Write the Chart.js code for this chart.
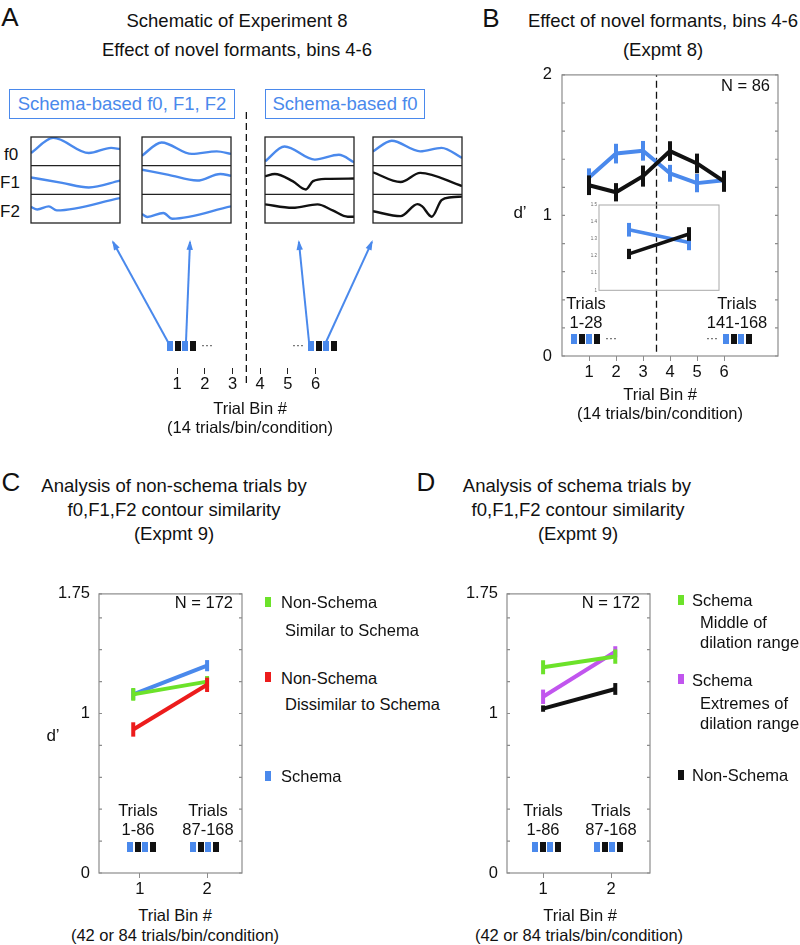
<!DOCTYPE html>
<html>
<head>
<meta charset="utf-8">
<script src="https://cdn.jsdelivr.net/npm/chart.js@4.4.0/dist/chart.umd.min.js"></script>
<style>
body { margin: 0; background: #fff; }
#fig { position: relative; width: 800px; height: 945px; overflow: hidden;
       font-family: "Liberation Sans", Arial, sans-serif; color: #111; }
#fig canvas { position: absolute; }
.t { position: absolute; white-space: nowrap; line-height: 1; }
.sq { position: absolute; display: flex; transform: translateY(-50%); }
.sq span { width: 6px; height: 10px; margin-right: 1.6px; }
.box { position: absolute; box-sizing: border-box; border: 1.3px solid #4a89ec; }
</style>
</head>
<body>
<div id="fig"></div>
<script>
// ---------- data ----------
var binsB = [1, 2, 3, 4, 5, 6];
var schemaB = [1.27, 1.44, 1.46, 1.30, 1.23, 1.25];
var schemaErrB = [0.065, 0.07, 0.07, 0.06, 0.065, 0.065];
var nonSchemaB = [1.215, 1.165, 1.28, 1.458, 1.37, 1.243];
var nonSchemaErrB = [0.07, 0.065, 0.075, 0.07, 0.07, 0.075];
var yLabelsB = [0, 1, 2];

var insetX = [1, 2];
var insetSchema = [1.355, 1.28];
var insetSchemaErr = [0.04, 0.045];
var insetNonSchema = [1.213, 1.33];
var insetNonSchemaErr = [0.03, 0.04];

var binsC = [0.9, 2.0];
var similarC = [1.12, 1.20];
var similarErrC = [0.04, 0.035];
var dissimilarC = [0.90, 1.18];
var dissimilarErrC = [0.045, 0.045];
var schemaC = [1.12, 1.30];
var schemaErrC = [0.035, 0.035];

var binsD = [1.0, 2.06];
var middleD = [1.29, 1.357];
var middleErrD = [0.044, 0.045];
var extremesD = [1.105, 1.387];
var extremesErrD = [0.045, 0.035];
var nonSchemaD = [1.031, 1.154];
var nonSchemaErrD = [0.02, 0.037];
var yLabelsCD = [0, 1, 1.75];
var xTicksCD = [1, 2];

// schematic contours, one row each (0 = bottom of row, 1 = top)
var box1F0 = [[0, 0.44], [0.25, 0.97], [0.65, 0.44], [0.9, 0.62], [1, 0.58]];
var box1F1 = [[0, 0.59], [0.35, 0.40], [0.65, 0.24], [1, 0.48]];
var box1F2 = [[0, 0.56], [0.07, 0.47], [0.2, 0.58], [0.29, 0.44], [1, 0.87]];
var box2F0 = [[0, 0.35], [0.22, 0.81], [0.56, 0.41], [0.84, 0.50], [1, 0.41]];
var box2F1 = [[0, 0.86], [0.3, 0.68], [0.62, 0.48], [0.88, 0.71], [1, 0.65]];
var box2F2 = [[0, 0.31], [0.06, 0.21], [0.24, 0.35], [0.34, 0.15], [1, 0.58]];
var box3F0 = [[0, 0.15], [0.22, 0.67], [0.56, 0.21], [0.83, 0.38], [1, 0.12]];
var box3F1 = [[0, 0.63], [0.11, 0.71], [0.31, 0.46], [0.46, 0.17], [0.54, 0.46], [0.69, 0.54], [1, 0.55]];
var box3F2 = [[0, 0.65], [0.31, 0.53], [0.59, 0.65], [0.76, 0.44], [0.93, 0.22], [1, 0.22]];
var box4F0 = [[0, 0.50], [0.21, 0.87], [0.53, 0.50], [0.77, 0.62], [1, 0.27]];
var box4F1 = [[0, 0.77], [0.31, 0.43], [0.53, 0.75], [1, 0.29]];
var box4F2 = [[0, 0.41], [0.31, 0.24], [0.5, 0.66], [0.55, 0.59], [0.66, 0.22], [0.77, 0.80], [0.88, 0.90], [1, 0.92]];

var binsA = [1, 2, 3, 4, 5, 6];
var arrowTailsA = [0.667, 1.318, 5.766, 6.38];
var arrowTipsA = [-1.32, 1.463, 5.40, 8.04];

// ---------- styles ----------
var BLUE = '#4a89ec', GREEN = '#6ce22a', RED = '#ec1c1c', PURPLE = '#c155ee', BLACK = '#111', GRAY = '#8c8c8c';
var FONT = '"Liberation Sans", Arial, sans-serif';

Chart.defaults.font.family = FONT;
Chart.defaults.color = '#111';
Chart.defaults.animation = false;
Chart.defaults.events = [];
Chart.defaults.plugins.legend.display = false;
Chart.defaults.plugins.tooltip.enabled = false;
Chart.defaults.elements.point.radius = 0;
Chart.defaults.elements.line.borderJoinStyle = 'round';

var errorBars = {
    id: 'errorBars',
    afterDatasetDraw: function (chart, args) {
        var ds = chart.data.datasets[args.index];
        if (!ds.errors) return;
        var xs = chart.scales.x, ys = chart.scales.y, ctx = chart.ctx;
        ctx.save();
        ctx.strokeStyle = ds.borderColor;
        ctx.lineWidth = ds.errorWidth || 4;
        ds.data.forEach(function (p, i) {
            var px = xs.getPixelForValue(p.x);
            ctx.beginPath();
            ctx.moveTo(px, ys.getPixelForValue(p.y - ds.errors[i]));
            ctx.lineTo(px, ys.getPixelForValue(p.y + ds.errors[i]));
            ctx.stroke();
        });
        ctx.restore();
    }
};

var arrowHeads = {
    id: 'arrowHeads',
    afterDatasetDraw: function (chart, args) {
        var ds = chart.data.datasets[args.index];
        if (!ds.arrow) return;
        var pts = args.meta.data, a = pts[pts.length - 2], b = pts[pts.length - 1];
        var ang = Math.atan2(b.y - a.y, b.x - a.x), L = 8, W = 3.2, ctx = chart.ctx;
        ctx.save();
        ctx.fillStyle = ds.borderColor;
        ctx.beginPath();
        ctx.moveTo(b.x + Math.cos(ang) * 2, b.y + Math.sin(ang) * 2);
        ctx.lineTo(b.x - L * Math.cos(ang) + W * Math.sin(ang), b.y - L * Math.sin(ang) - W * Math.cos(ang));
        ctx.lineTo(b.x - L * Math.cos(ang) - W * Math.sin(ang), b.y - L * Math.sin(ang) + W * Math.cos(ang));
        ctx.closePath();
        ctx.fill();
        ctx.restore();
    }
};

var frame = {
    id: 'frame',
    afterDatasetsDraw: function (chart, args, opts) {
        if (!opts.color) return;
        var a = chart.chartArea, ctx = chart.ctx, ys = chart.scales.y;
        ctx.save();
        ctx.strokeStyle = opts.color;
        ctx.lineWidth = opts.width || 1;
        if (opts.rows) {
            opts.rows.forEach(function (v) {
                var py = ys.getPixelForValue(v);
                ctx.beginPath(); ctx.moveTo(a.left, py); ctx.lineTo(a.right, py); ctx.stroke();
            });
        }
        if (opts.innerTicks) {
            ys.ticks.forEach(function (t) {
                var py = ys.getPixelForValue(t.value);
                ctx.beginPath();
                ctx.moveTo(a.left, py); ctx.lineTo(a.left + opts.innerTicks, py);
                ctx.moveTo(a.right, py); ctx.lineTo(a.right - opts.innerTicks, py);
                ctx.stroke();
            });
        }
        ctx.strokeRect(a.left, a.top, a.right - a.left, a.bottom - a.top);
        ctx.restore();
    }
};
Chart.register(errorBars, arrowHeads, frame);

// ---------- helpers ----------
var fig = document.getElementById('fig');

function xy(xs, ys) {
    return xs.map(function (x, i) { return { x: x, y: ys[i] }; });
}

function canvasAt(left, top, w, h) {
    var c = document.createElement('canvas');
    c.width = w; c.height = h;
    c.style.left = left + 'px'; c.style.top = top + 'px';
    fig.appendChild(c);
    return c;
}

function txt(s, x, y, size, align, color) {
    var d = document.createElement('div');
    d.className = 't';
    d.textContent = s;
    d.style.left = x + 'px'; d.style.top = y + 'px';
    d.style.fontSize = (size || 16.5) + 'px';
    if (color) d.style.color = color;
    var tx = align === 'l' ? '0' : (align === 'r' ? '-100%' : '-50%');
    d.style.transform = 'translate(' + tx + ',-50%)';
    fig.appendChild(d);
}

function squares(x, y, colors) {
    var d = document.createElement('div');
    d.className = 'sq';
    d.style.left = x + 'px'; d.style.top = y + 'px';
    colors.forEach(function (c) {
        var s = document.createElement('span');
        s.style.background = c;
        d.appendChild(s);
    });
    fig.appendChild(d);
}

function line(data, color, width, extra) {
    var ds = { data: data, borderColor: color, borderWidth: width, showLine: true, pointRadius: 0 };
    for (var k in extra) ds[k] = extra[k];
    return ds;
}

function onlyLabels(list) {
    return function (v) {
        for (var i = 0; i < list.length; i++) {
            if (Math.abs(v - list[i]) < 1e-6) return String(list[i]);
        }
        return '';
    };
}

var TRIAL = [BLUE, BLACK, BLUE, BLACK];

// ---------- panel A ----------
txt('A', 10, 17, 26);
txt('Schematic of Experiment 8', 237, 21, 18.5);
txt('Effect of novel formants, bins 4-6', 237, 50, 18.5);

var b1 = document.createElement('div');
b1.className = 'box';
b1.style.cssText = 'left:9px;top:89px;width:226px;height:30px;';
fig.appendChild(b1);
txt('Schema-based f0, F1, F2', 122, 104, 18.5, 'c', BLUE);
var b2 = document.createElement('div');
b2.className = 'box';
b2.style.cssText = 'left:265px;top:89px;width:160px;height:30px;';
fig.appendChild(b2);
txt('Schema-based f0', 345, 104, 18.5, 'c', BLUE);

txt('f0', 4, 154, 17, 'l');
txt('F1', 0, 182, 17, 'l');
txt('F2', 0, 211, 17, 'l');

var schemBoxes = [
    { left: 31, rows: [box1F0, box1F1, box1F2], colors: [BLUE, BLUE, BLUE] },
    { left: 142, rows: [box2F0, box2F1, box2F2], colors: [BLUE, BLUE, BLUE] },
    { left: 265, rows: [box3F0, box3F1, box3F2], colors: [BLUE, BLACK, BLACK] },
    { left: 373, rows: [box4F0, box4F1, box4F2], colors: [BLUE, BLACK, BLACK] }
];
schemBoxes.forEach(function (bx) {
    var c = canvasAt(bx.left - 1, 136, 91, 88);
    var sets = bx.rows.map(function (row, r) {
        var off = 2 - r;
        return line(row.map(function (p) { return { x: p[0], y: p[1] + off }; }), bx.colors[r], 2.4,
            { cubicInterpolationMode: 'monotone' });
    });
    new Chart(c, {
        type: 'scatter',
        data: { datasets: sets },
        options: {
            responsive: false, devicePixelRatio: 1,
            layout: { padding: 1 },
            plugins: { frame: { color: '#222', width: 1.3, rows: [1, 2] } },
            scales: {
                x: { display: false, min: 0, max: 1 },
                y: { display: false, min: 0, max: 3 }
            }
        }
    });
});

var cA = canvasAt(0, 100, 400, 300);
var arrowSets = arrowTailsA.map(function (t, i) {
    return line([{ x: t, y: 0.197 }, { x: arrowTipsA[i], y: 0.955 }], BLUE, 2, { arrow: true, clip: false });
});
arrowSets.push(line([{ x: 3.5, y: 1.94 }, { x: 3.5, y: -0.13 }], BLACK, 1.3, { borderDash: [7, 4], clip: false }));
new Chart(cA, {
    type: 'scatter',
    data: { datasets: arrowSets },
    options: {
        responsive: false, devicePixelRatio: 1,
        layout: { padding: { top: 136, left: 0, right: 0, bottom: 0 } },
        scales: {
            x: {
                min: -5.406, max: 9.055,
                afterBuildTicks: function (s) { s.ticks = binsA.map(function (v) { return { value: v }; }); },
                afterFit: function (s) { s.height = 32; },
                grid: { drawOnChartArea: false, drawTicks: true, tickLength: 6, color: '#222' },
                border: { display: false },
                ticks: { padding: 1, font: { size: 16.5 }, autoSkip: false, maxRotation: 0 }
            },
            y: { display: false, min: 0, max: 1 }
        }
    }
});
squares(167, 346, TRIAL);
squares(308, 346, TRIAL);
txt('···', 207, 345, 12);
txt('···', 298, 345, 12);
txt('Trial Bin #', 250, 408, 16.5);
txt('(14 trials/bin/condition)', 250, 427, 16.5);

// ---------- panel B ----------
txt('B', 491, 18, 26);
txt('Effect of novel formants, bins 4-6', 663, 21, 18.5);
txt('(Expmt 8)', 663, 50, 18.5);

var cB = canvasAt(522, 55, 268, 335);
new Chart(cB, {
    type: 'scatter',
    data: {
        datasets: [
            line(xy(binsB, nonSchemaB), BLACK, 4, { errors: nonSchemaErrB }),
            line(xy(binsB, schemaB), BLUE, 4, { errors: schemaErrB }),
            line([{ x: 3.5, y: 0.03 }, { x: 3.5, y: 2 }], BLACK, 1.3, { borderDash: [7, 4] })
        ]
    },
    options: {
        responsive: false, devicePixelRatio: 1,
        layout: { padding: { top: 14, right: 12, bottom: 4, left: 0 } },
        plugins: { frame: { color: GRAY, width: 1.2, innerTicks: 3 } },
        scales: {
            x: {
                min: 0, max: 8,
                afterBuildTicks: function (s) { s.ticks = binsB.map(function (v) { return { value: v }; }); },
                afterFit: function (s) { s.height = 30; },
                grid: { drawOnChartArea: false, drawTicks: true, tickLength: 5, color: GRAY },
                border: { display: false },
                ticks: { padding: 2, font: { size: 16.5 }, autoSkip: false, maxRotation: 0 }
            },
            y: {
                min: 0, max: 2,
                afterFit: function (s) { s.width = 40; },
                grid: { display: false, drawTicks: false },
                border: { display: false },
                ticks: { stepSize: 0.2, padding: 10, font: { size: 16.5 }, autoSkip: false, callback: onlyLabels(yLabelsB) }
            }
        }
    }
});

var cI = canvasAt(585, 200, 139, 95);
new Chart(cI, {
    type: 'scatter',
    data: {
        datasets: [
            line(xy(insetX, insetNonSchema), BLACK, 3.5, { errors: insetNonSchemaErr }),
            line(xy(insetX, insetSchema), BLUE, 3.5, { errors: insetSchemaErr })
        ]
    },
    options: {
        responsive: false, devicePixelRatio: 1,
        layout: { padding: { top: 5, right: 5, bottom: 4, left: 0 } },
        plugins: { frame: { color: '#a8a8a8', width: 1 } },
        scales: {
            x: { display: false, min: 0.5, max: 2.5 },
            y: {
                min: 1, max: 1.5,
                afterFit: function (s) { s.width = 14; },
                grid: { display: false, drawTicks: false },
                border: { display: false },
                ticks: {
                    stepSize: 0.1, padding: 2, font: { size: 4.5 }, color: '#666',
                    callback: function (v) { return Math.abs(v - 1) < 1e-6 ? '1' : v.toFixed(1); }
                }
            }
        }
    }
});

txt('N = 86', 770, 85, 16.5, 'r');
txt('d’', 520, 212, 17);
txt('Trials', 586, 303, 16.5);
txt('1-28', 586, 322, 16.5);
squares(571, 339, TRIAL);
txt('···', 611, 338, 12);
txt('Trials', 737, 303, 16.5);
txt('141-168', 737, 322, 16.5);
txt('···', 712, 338, 12);
squares(723, 339, TRIAL);
txt('Trial Bin #', 660, 394, 16.5);
txt('(14 trials/bin/condition)', 660, 413, 16.5);

// ---------- panels C and D ----------
function smallPlot(left, xMin, xMax, datasets) {
    var c = canvasAt(left, 575, 195, 330);
    return new Chart(c, {
        type: 'scatter',
        data: { datasets: datasets },
        options: {
            responsive: false, devicePixelRatio: 1,
            layout: { padding: { top: 13, right: 8, bottom: 2, left: 0 } },
            plugins: { frame: { color: GRAY, width: 1.2, innerTicks: 3 } },
            scales: {
                x: {
                    min: xMin, max: xMax,
                    afterBuildTicks: function (s) { s.ticks = xTicksCD.map(function (v) { return { value: v }; }); },
                    afterFit: function (s) { s.height = 30; },
                    grid: { drawOnChartArea: false, drawTicks: true, tickLength: 5, color: GRAY },
                    border: { display: false },
                    ticks: { padding: 2, font: { size: 16.5 }, autoSkip: false, maxRotation: 0 }
                },
                y: {
                    min: 0, max: 1.75,
                    afterFit: function (s) { s.width = 44; },
                    grid: { display: false, drawTicks: false },
                    border: { display: false },
                    ticks: { stepSize: 0.2, padding: 9, font: { size: 16.5 }, autoSkip: false, callback: onlyLabels(yLabelsCD) }
                }
            }
        }
    });
}

txt('C', 11, 482, 26);
txt('Analysis of non-schema trials by', 174, 486, 18.5);
txt('f0,F1,F2 contour similarity', 174, 510, 18.5);
txt('(Expmt 9)', 174, 534, 18.5);
smallPlot(55, 0.39, 2.52, [
    line(xy(binsC, dissimilarC), RED, 4, { errors: dissimilarErrC }),
    line(xy(binsC, similarC), GREEN, 4, { errors: similarErrC }),
    line(xy(binsC, schemaC), BLUE, 4, { errors: schemaErrC })
]);
txt('N = 172', 233, 602, 16.5, 'r');
txt('d’', 53, 735, 17);
txt('Trials', 138, 810, 16.5);
txt('1-86', 138, 829, 16.5);
squares(127, 847, TRIAL);
txt('Trials', 208, 810, 16.5);
txt('87-168', 208, 829, 16.5);
squares(190, 847, TRIAL);
txt('Trial Bin #', 175, 915, 16.5);
txt('(42 or 84 trials/bin/condition)', 175, 935, 16.5);
squares(265, 602, [GREEN]);
txt('Non-Schema', 281, 602, 16.5, 'l');
txt('Similar to Schema', 285, 630, 16.5, 'l');
squares(265, 677, [RED]);
txt('Non-Schema', 281, 678, 16.5, 'l');
txt('Dissimilar to Schema', 285, 704, 16.5, 'l');
squares(265, 776, [BLUE]);
txt('Schema', 281, 776, 16.5, 'l');

txt('D', 426, 482, 26);
txt('Analysis of schema trials by', 577, 486, 18.5);
txt('f0,F1,F2 contour similarity', 578, 510, 18.5);
txt('(Expmt 9)', 578, 534, 18.5);
smallPlot(463, 0.47, 2.57, [
    line(xy(binsD, middleD), GREEN, 4, { errors: middleErrD }),
    line(xy(binsD, extremesD), PURPLE, 4, { errors: extremesErrD }),
    line(xy(binsD, nonSchemaD), BLACK, 4, { errors: nonSchemaErrD })
]);
txt('N = 172', 640, 602, 16.5, 'r');
txt('Trials', 543, 810, 16.5);
txt('1-86', 543, 829, 16.5);
squares(532, 847, TRIAL);
txt('Trials', 611, 810, 16.5);
txt('87-168', 611, 829, 16.5);
squares(594, 847, TRIAL);
txt('Trial Bin #', 580, 915, 16.5);
txt('(42 or 84 trials/bin/condition)', 579, 935, 16.5);
squares(678, 600, [GREEN]);
txt('Schema', 692, 600, 16.5, 'l');
txt('Middle of', 700, 622, 16.5, 'l');
txt('dilation range', 700, 642, 16.5, 'l');
squares(678, 679, [PURPLE]);
txt('Schema', 692, 680, 16.5, 'l');
txt('Extremes of', 700, 703, 16.5, 'l');
txt('dilation range', 700, 723, 16.5, 'l');
squares(678, 775, [BLACK]);
txt('Non-Schema', 692, 775, 16.5, 'l');
</script>
</body>
</html>
